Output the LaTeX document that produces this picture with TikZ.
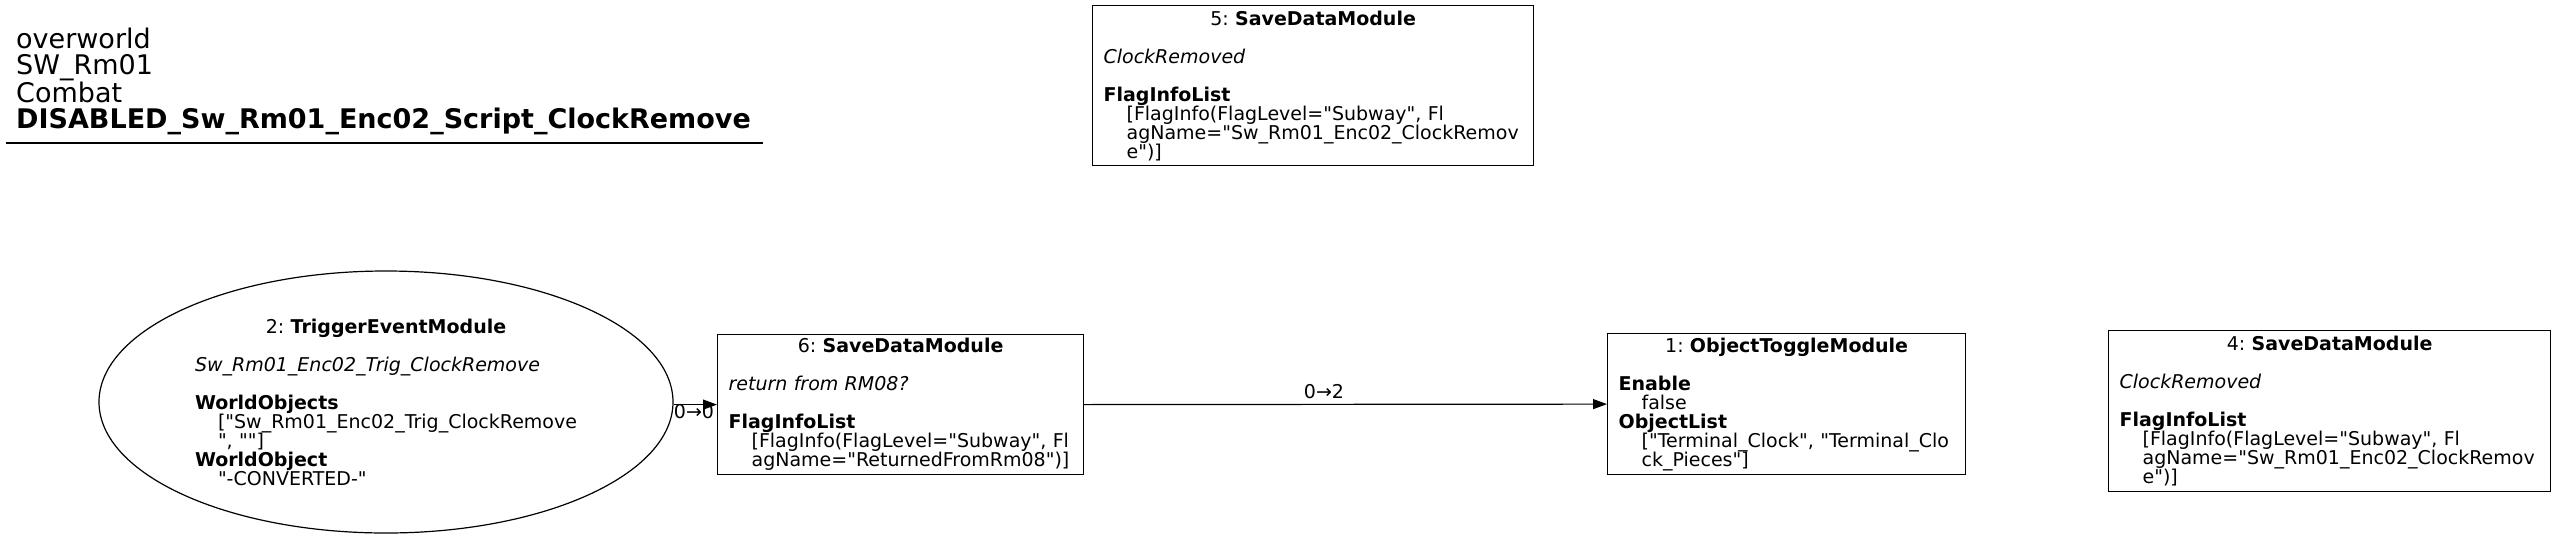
\documentclass[tikz,border=0pt]{standalone}
\usepackage{fontspec}
\setmainfont{DejaVu Sans}[Ligatures=TeXOff]
\usetikzlibrary{arrows.meta,shapes.geometric}
\newcommand{\ctrline}[1]{\makebox[\hsize][c]{#1}}
\newcommand{\ind}{\hspace*{23pt}}
\frenchspacing
\begin{document}
\begin{tikzpicture}[x=1pt,y=-1pt,
  nodefont/.style={font=\fontsize{19}{19}\selectfont},
  modbox/.style={draw, line width=1.2pt, rectangle, inner sep=0pt, align=left, anchor=north west, nodefont},
  modell/.style={draw, line width=1.2pt, ellipse, inner sep=0pt, align=left, nodefont},
  edge/.style={draw, line width=1.2pt, -{Triangle[length=14pt,width=10pt]}},
  elabel/.style={inner sep=0pt, nodefont}]
\useasboundingbox (0,0) rectangle (2555,536);
\fill[white] (0,0) rectangle (2555,536);

% title
\node[anchor=base west, align=left, inner sep=0pt, font=\fontsize{27}{26}\selectfont] (title) at (16,128)
  {overworld\\SW\_Rm01\\Combat\\\textbf{DISABLED\_Sw\_Rm01\_Enc02\_Script\_ClockRemove}};
\draw[line width=1.2pt] (6,143) -- (763,143);

% node 5
\node[modbox, minimum width=441, minimum height=160, text width=419] (n5) at (1092,5)
  {\ctrline{5: \textbf{SaveDataModule}}\\[19pt]
   \textit{ClockRemoved}\\[19pt]
   \textbf{FlagInfoList}\\
   \ind\mbox{[FlagInfo(FlagLevel="Subway", Fl}\\
   \ind\mbox{agName="Sw\_Rm01\_Enc02\_ClockRemov}\\
   \ind\mbox{e")]}};

% node 2 (ellipse)
\node[modell, minimum width=574, minimum height=262, text width=382] (n2) at (386,402)
  {\ctrline{2: \textbf{TriggerEventModule}}\\[19pt]
   \textit{Sw\_Rm01\_Enc02\_Trig\_ClockRemove}\\[19pt]
   \textbf{WorldObjects}\\
   \ind\mbox{["Sw\_Rm01\_Enc02\_Trig\_ClockRemove}\\
   \ind\mbox{", ""]}\\
   \textbf{WorldObject}\\
   \ind\mbox{"-CONVERTED-"}};

% node 6
\node[modbox, minimum width=366, minimum height=140, text width=344] (n6) at (717,334)
  {\ctrline{6: \textbf{SaveDataModule}}\\[19pt]
   \textit{return from RM08?}\\[19pt]
   \textbf{FlagInfoList}\\
   \ind\mbox{[FlagInfo(FlagLevel="Subway", Fl}\\
   \ind\mbox{agName="ReturnedFromRm08")]}};

% node 1
\node[modbox, minimum width=358, minimum height=141, text width=336] (n1) at (1607,333)
  {\ctrline{1: \textbf{ObjectToggleModule}}\\[19pt]
   \textbf{Enable}\\
   \ind false\\
   \textbf{ObjectList}\\
   \ind\mbox{["Terminal\_Clock", "Terminal\_Clo}\\
   \ind\mbox{ck\_Pieces"]}};

% node 4
\node[modbox, minimum width=442, minimum height=161, text width=420] (n4) at (2108,330)
  {\ctrline{4: \textbf{SaveDataModule}}\\[19pt]
   \textit{ClockRemoved}\\[19pt]
   \textbf{FlagInfoList}\\
   \ind\mbox{[FlagInfo(FlagLevel="Subway", Fl}\\
   \ind\mbox{agName="Sw\_Rm01\_Enc02\_ClockRemov}\\
   \ind\mbox{e")]}};

% edges
\draw[edge] (n6.west -| n2.east) -- (n6.west);
\node[elabel] (l20) at (694,412) {0→0};
\draw[edge] (n6.east) -- (n1.west);
\node[elabel] (l61) at (1324,392) {0→2};
\end{tikzpicture}
\end{document}
